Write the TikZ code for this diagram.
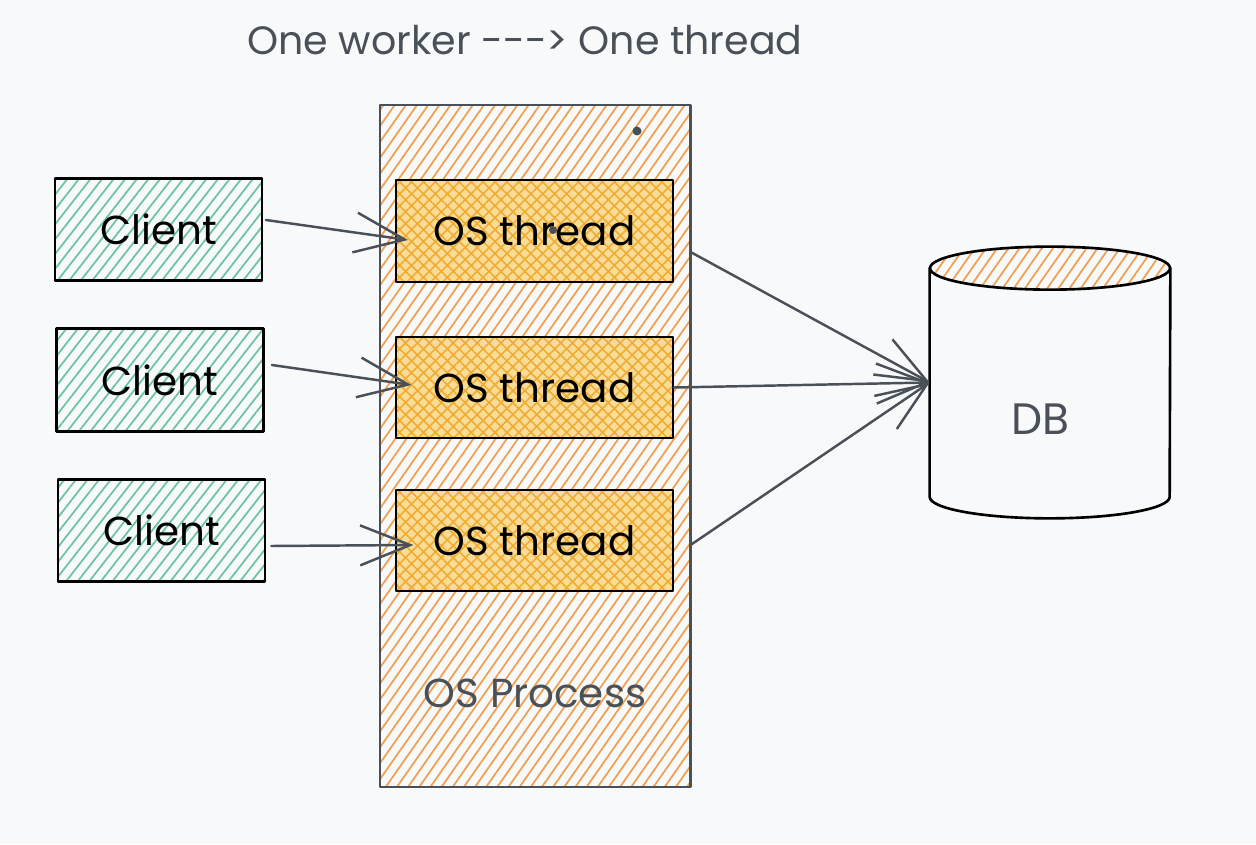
\documentclass[tikz,border=0pt]{standalone}
\usepackage{fontspec}
\setmainfont{Poppins}
\usetikzlibrary{arrows.meta,calc,patterns.meta}
\definecolor{ink}{HTML}{495057}
\definecolor{paper}{HTML}{F8F9FA}
\definecolor{procorange}{HTML}{F0A050}
\definecolor{threadgold}{HTML}{F0AC30}
\definecolor{threadfill}{HTML}{F8DC98}
\definecolor{mint}{HTML}{6CC4A0}

\begin{document}
\begin{tikzpicture}[font=\fontsize{23}{28}\selectfont,line cap=round,line join=round,
  >={Straight Barb[length=1cm,width=.8cm]},
  box/.style={rectangle,inner sep=0pt},
  client/.style={box,draw=black,line width=1.6pt,minimum width=4.14cm,minimum height=2.05cm,
    pattern={Lines[angle=52,distance=5.2pt,line width=1pt]},pattern color=mint},
  thread/.style={box,draw=black,line width=.9pt,minimum width=5.55cm,minimum height=2.03cm,
    preaction={fill=threadfill},
    pattern={Hatch[angle=45,distance=4.8pt,line width=.9pt]},pattern color=threadgold},
  process/.style={box,draw=ink,line width=1.7pt,minimum width=6.2cm,minimum height=13.64cm,
    pattern={Lines[angle=55,distance=5.2pt,line width=1pt]},pattern color=procorange},
  link/.style={->,ink,line width=1.4pt},
  note/.style={text=ink}]
  \useasboundingbox (0,0) rectangle (25.12,16.88);
  \fill[paper] (0,0) rectangle (25.12,16.88);

  \node[note,font=\fontsize{22.5}{27}\selectfont] (title) at (10.5,16.08)
    {One worker -{}-{}-> One thread};

  \node[process] (proc) at (10.7,7.96) {};
  \node[note] (proclabel) at (10.7,3.02) {OS Process};
  \fill[ink] (12.74,14.26) circle (.09);

  \node[thread] (t1) at (10.69,12.26) {OS thread};
  \node[thread] (t2) at (10.69,9.13) {OS thread};
  \node[thread] (t3) at (10.69,6.07) {OS thread};
  \fill[ink] (11.06,12.28) circle (.08);

  \node[client] (c1) at (3.17,12.29) {Client};
  \node[client] (c2) at (3.2,9.28) {Client};
  \node[client] (c3) at (3.23,6.27) {Client};

  \node[box,minimum width=4.8cm,minimum height=4.56cm] (db) at (21,9.23) {};
  \fill[pattern={Lines[angle=55,distance=5.2pt,line width=1pt]},pattern color=procorange]
    (db.north) ellipse[x radius=2.4,y radius=.43];
  \draw[black,line width=1.5pt] (db.north) ellipse[x radius=2.4,y radius=.43];
  \draw[black,line width=1.5pt] (db.north west)--(db.south west)
    arc[start angle=180,end angle=360,x radius=2.4,y radius=.43]--(db.north east);
  \node[note,font=\fontsize{25}{30}\selectfont] (dblabel) at ($(db.center)+(-.2,-.74)$) {DB};

  \draw[link] ($(c1.east)+(.06,.19)$)--($(t1.west)+(.26,-.18)$);
  \draw[link] ($(c2.east)+(.14,.3)$)--($(t2.west)+(.33,.05)$);
  \draw[link] ($(c3.east)+(.1,-.31)$)--($(t3.west)+(.37,-.09)$);

  \draw[link] ($(t1.east)+(.33,-.42)$)--(db.west);
  \draw[link] (t2.east)--(db.west);
  \draw[link] ($(t3.east)+(.33,-.09)$)--(db.west);
\end{tikzpicture}
\end{document}
